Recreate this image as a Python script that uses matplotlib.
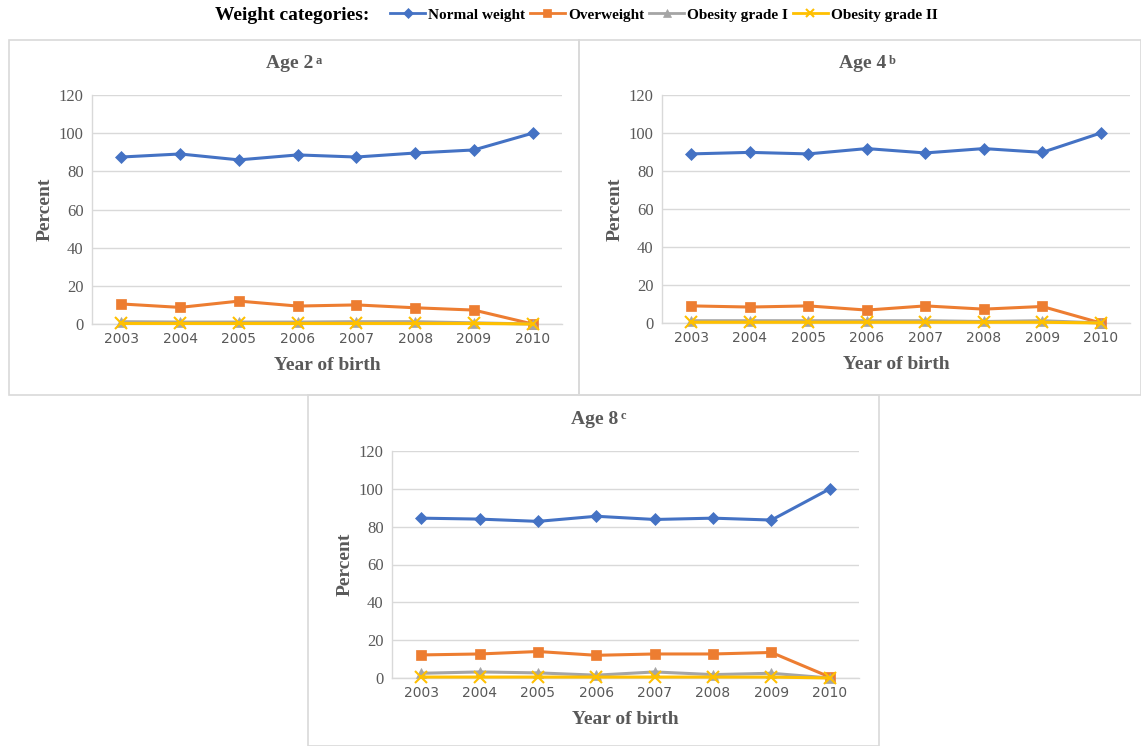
import matplotlib
matplotlib.use("Agg")
import matplotlib.pyplot as plt
from matplotlib.patches import Rectangle
from matplotlib.lines import Line2D

years = ["2003", "2004", "2005", "2006", "2007", "2008", "2009", "2010"]
series_names = ["Normal weight", "Overweight", "Obesity grade I", "Obesity grade II"]

age2_normal = [87.5, 89.1, 86.0, 88.6, 87.5, 89.6, 91.2, 100.0]
age2_over = [10.5, 8.7, 12.0, 9.4, 10.0, 8.5, 7.3, 0.0]
age2_ob1 = [1.2, 1.0, 1.0, 1.0, 1.2, 1.2, 0.6, 0.0]
age2_ob2 = [0.3, 0.3, 0.3, 0.3, 0.3, 0.3, 0.3, 0.0]

age4_normal = [89.0, 89.8, 89.0, 91.8, 89.5, 91.8, 89.8, 100.0]
age4_over = [9.0, 8.4, 9.0, 6.8, 9.0, 7.3, 8.7, 0.0]
age4_ob1 = [1.2, 1.2, 1.2, 1.2, 1.2, 0.8, 1.2, 0.0]
age4_ob2 = [0.4, 0.4, 0.4, 0.4, 0.4, 0.4, 0.4, 0.0]

age8_normal = [84.5, 84.0, 82.8, 85.5, 83.8, 84.5, 83.5, 100.0]
age8_over = [12.2, 12.7, 14.0, 12.0, 12.7, 12.7, 13.5, 0.5]
age8_ob1 = [2.5, 3.2, 2.7, 1.5, 3.2, 1.8, 2.5, 0.0]
age8_ob2 = [0.5, 0.5, 0.5, 0.5, 0.5, 0.5, 0.5, 0.0]

titles = ["Age 2", "Age 4", "Age 8"]
title_sups = ["a", "b", "c"]
yticks = [0, 20, 40, 60, 80, 100, 120]

colors = ["#4472C4", "#ED7D31", "#A5A5A5", "#FFC000"]
markers = ["D", "s", "^", "x"]
msizes = [6, 7.5, 6.5, 8]

W, H = 1141, 746
fig = plt.figure(figsize=(W / 100, H / 100), dpi=100)

def fx(px):
    return px / W

def fy(py):
    return 1 - py / H

# panel frames
for (x0, y0, x1, y1) in [(9, 40, 579, 395), (579, 40, 1141, 395), (308, 395, 879, 746)]:
    fig.add_artist(Rectangle((fx(x0), fy(y1)), fx(x1 - x0), (y1 - y0) / H,
                             transform=fig.transFigure, fill=False,
                             edgecolor="#D9D9D9", linewidth=1.2))

panels = [
    (age2_normal, age2_over, age2_ob1, age2_ob2, (92, 562, 95, 324), 0, (290, 64)),
    (age4_normal, age4_over, age4_ob1, age4_ob2, (662, 1130, 95, 323), 1, (863, 64)),
    (age8_normal, age8_over, age8_ob1, age8_ob2, (392, 859, 451, 678), 2, (595, 419)),
]

serif = "Liberation Serif"
x = list(range(len(years)))
for (n, o, b1, b2, (l, r, t, b), k, (tx, ty)) in panels:
    ax = fig.add_axes([fx(l), fy(b), fx(r - l), (b - t) / H])
    for vals, c, m, ms in zip([n, o, b1, b2], colors, markers, msizes):
        ax.plot(x, vals, color=c, marker=m, markersize=ms, linewidth=2.2,
                markeredgewidth=1.5 if m == "x" else 0.5, markeredgecolor=c,
                clip_on=False, zorder=3)
    ax.set_ylim(0, 120)
    ax.set_xlim(-0.5, 7.5)
    ax.set_yticks(yticks)
    ax.set_xticks(x)
    ax.set_xticklabels(years, fontfamily="DejaVu Sans", fontsize=10, color="#595959")
    ax.set_yticklabels([str(v) for v in yticks], fontfamily=serif, fontsize=12, color="#595959")
    ax.tick_params(length=0, pad=6)
    ax.grid(axis="y", color="#D9D9D9", linewidth=1)
    ax.set_axisbelow(True)
    for s in ["top", "right"]:
        ax.spines[s].set_visible(False)
    for s in ["left", "bottom"]:
        ax.spines[s].set_color("#D9D9D9")
        ax.spines[s].set_linewidth(1)
    ax.set_ylabel("Percent", fontfamily=serif, fontweight="bold", fontsize=14,
                  color="#595959", labelpad=4)
    ax.set_xlabel("Year of birth", fontfamily=serif, fontweight="bold", fontsize=14,
                  color="#595959", labelpad=8)
    fig.text(fx(tx), fy(ty), titles[k], fontfamily=serif, fontweight="bold", fontsize=14,
             color="#595959", ha="center", va="center")
    fig.text(fx(tx + 26), fy(ty - 3), title_sups[k], fontfamily=serif, fontweight="bold",
             fontsize=9, color="#595959", ha="left", va="center")

# legend
fig.text(fx(215), fy(15), "Weight categories:", fontfamily=serif, fontweight="bold",
         fontsize=14, color="black", ha="left", va="center")
handles = [Line2D([0], [0], color=c, marker=m, markersize=ms * 0.8, linewidth=2,
                  markeredgewidth=1.5 if m == "x" else 0.5, markeredgecolor=c)
           for c, m, ms in zip(colors, markers, msizes)]
leg = fig.legend(handles, series_names, loc="center left",
                 bbox_to_anchor=(fx(390), fy(15)), ncol=4, frameon=False,
                 prop={"family": serif, "weight": "bold", "size": 11},
                 handlelength=2.3, handletextpad=0.2, columnspacing=0.3,
                 borderaxespad=0, borderpad=0)

fig.savefig("out.png", dpi=100)
